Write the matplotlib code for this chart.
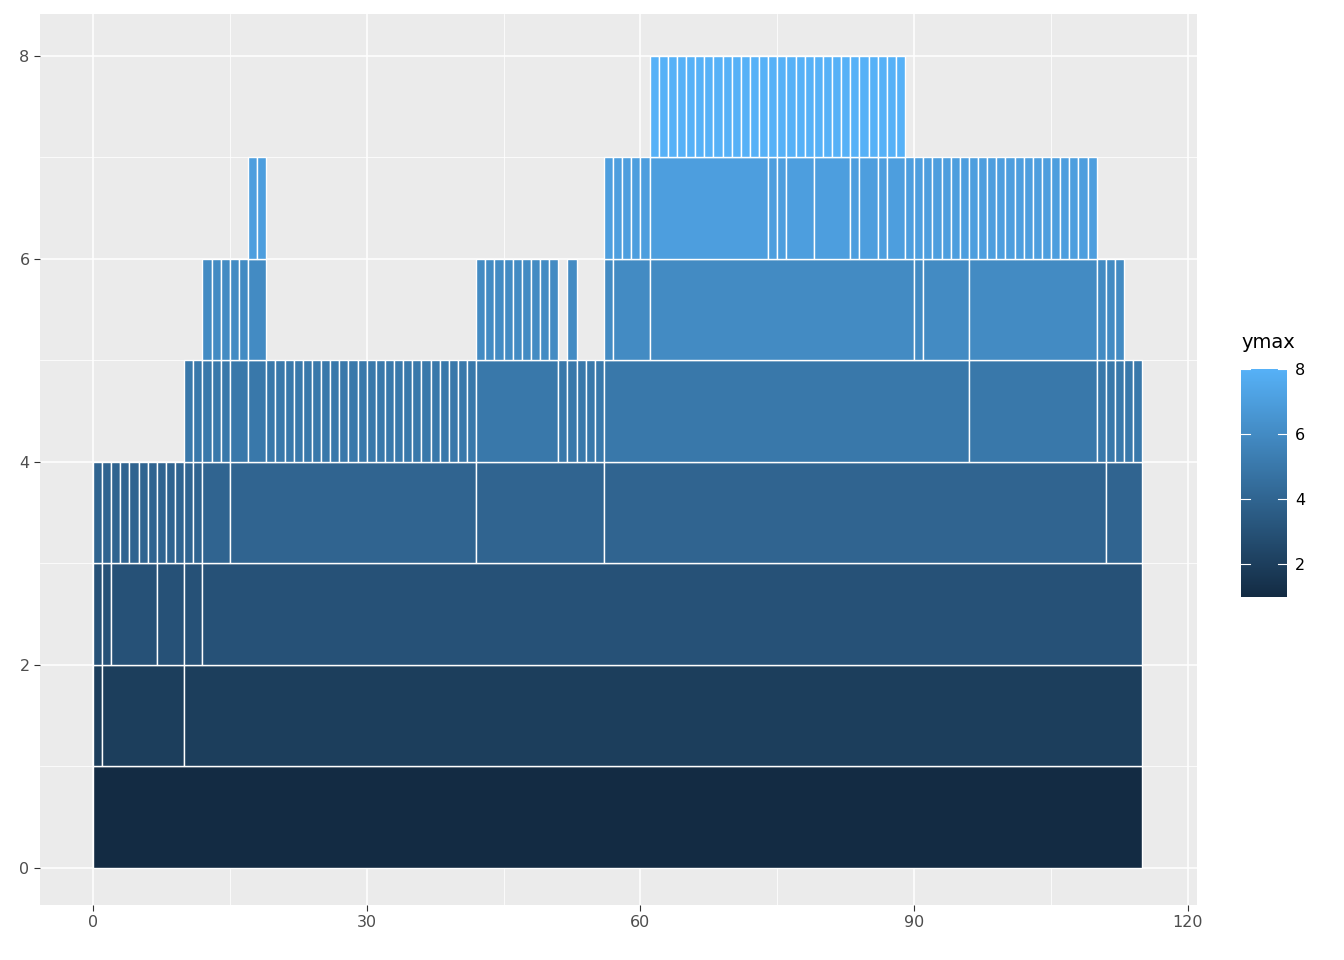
import matplotlib.pyplot as plt
import matplotlib.colors as mcolors
from matplotlib.patches import Rectangle
from matplotlib.cm import ScalarMappable
import numpy as np

# breakpoints of the rectangles in each row (row i spans y = i .. i+1); one list per contiguous run
row_breaks = [
    [[0, 115]],
    [[0, 1, 10, 115]],
    [[0, 1, 2, 7, 10, 12, 115]],
    [[0, 1, 2, 3, 4, 5, 6, 7, 8, 9, 10, 11, 12, 15, 42, 56, 111, 115]],
    [[10, 11, 12, 13, 14, 15, 17, 19, 20, 21, 22, 23, 24, 25, 26, 27, 28, 29, 30, 31, 32, 33,
      34, 35, 36, 37, 38, 39, 40, 41, 42, 51, 52, 53, 54, 55, 56, 96, 110, 111, 112, 113, 114, 115]],
    [[12, 13, 14, 15, 16, 17, 19],
     [42, 43, 44, 45, 46, 47, 48, 49, 50, 51],
     [52, 53],
     [56, 57, 61, 90, 91, 96, 110, 111, 112, 113]],
    [[17, 18, 19],
     [56, 57, 58, 59, 60, 61, 74, 75, 76, 79, 83, 84, 86, 87, 89, 90, 91, 92, 93, 94, 95, 96,
      97, 98, 99, 100, 101, 102, 103, 104, 105, 106, 107, 108, 109, 110]],
    [[61, 62, 63, 64, 65, 66, 67, 68, 69, 70, 71, 72, 73, 74, 75, 76, 77, 78, 79, 80, 81, 82,
      83, 84, 85, 86, 87, 88, 89]],
]

cmap = mcolors.LinearSegmentedColormap.from_list('gg', ['#132B43', '#56B1F7'])
norm = mcolors.Normalize(vmin=1, vmax=8)

fig = plt.figure(figsize=(13.44, 9.6), dpi=100)
ax = fig.add_axes([40 / 1344, 1 - 905 / 960, 1157 / 1344, 891 / 960])
ax.set_facecolor('#EBEBEB')
for s in ax.spines.values():
    s.set_visible(False)

ax.set_xticks([0, 30, 60, 90, 120])
ax.set_yticks([0, 2, 4, 6, 8])
ax.set_xticks([15, 45, 75, 105], minor=True)
ax.set_yticks([1, 3, 5, 7], minor=True)
ax.grid(True, which='major', color='white', linewidth=1.1)
ax.grid(True, which='minor', color='white', linewidth=0.55)
ax.set_axisbelow(True)
ax.tick_params(which='major', colors='#333333', labelcolor='#4D4D4D', labelsize=11.5, length=4)
ax.tick_params(which='minor', length=0)
ax.set_xlim(-5.8, 121)
ax.set_ylim(-0.365, 8.41)

for i, runs in enumerate(row_breaks):
    ymax = i + 1
    for br in runs:
        for a, b in zip(br[:-1], br[1:]):
            ax.add_patch(Rectangle((a, i), b - a, 1, facecolor=cmap(norm(ymax)),
                                   edgecolor='white', linewidth=1.0, zorder=2))

cax = fig.add_axes([1241 / 1344, 1 - 597 / 960, 46 / 1344, 228 / 960])
cb = fig.colorbar(ScalarMappable(norm=norm, cmap=cmap), cax=cax)
cb.outline.set_visible(False)
cb.set_ticks([2, 4, 6, 8])
cax.tick_params(length=0, labelsize=11.5, pad=6)
for t in [2, 4, 6, 8]:
    cax.plot([0, 0.2], [t, t], color='white', lw=0.8, transform=cax.get_yaxis_transform())
    cax.plot([0.8, 1], [t, t], color='white', lw=0.8, transform=cax.get_yaxis_transform())
fig.text(1241 / 1344, 1 - 343 / 960, 'ymax', fontsize=14, va='center', ha='left')

fig.savefig('out.png', dpi=100)
